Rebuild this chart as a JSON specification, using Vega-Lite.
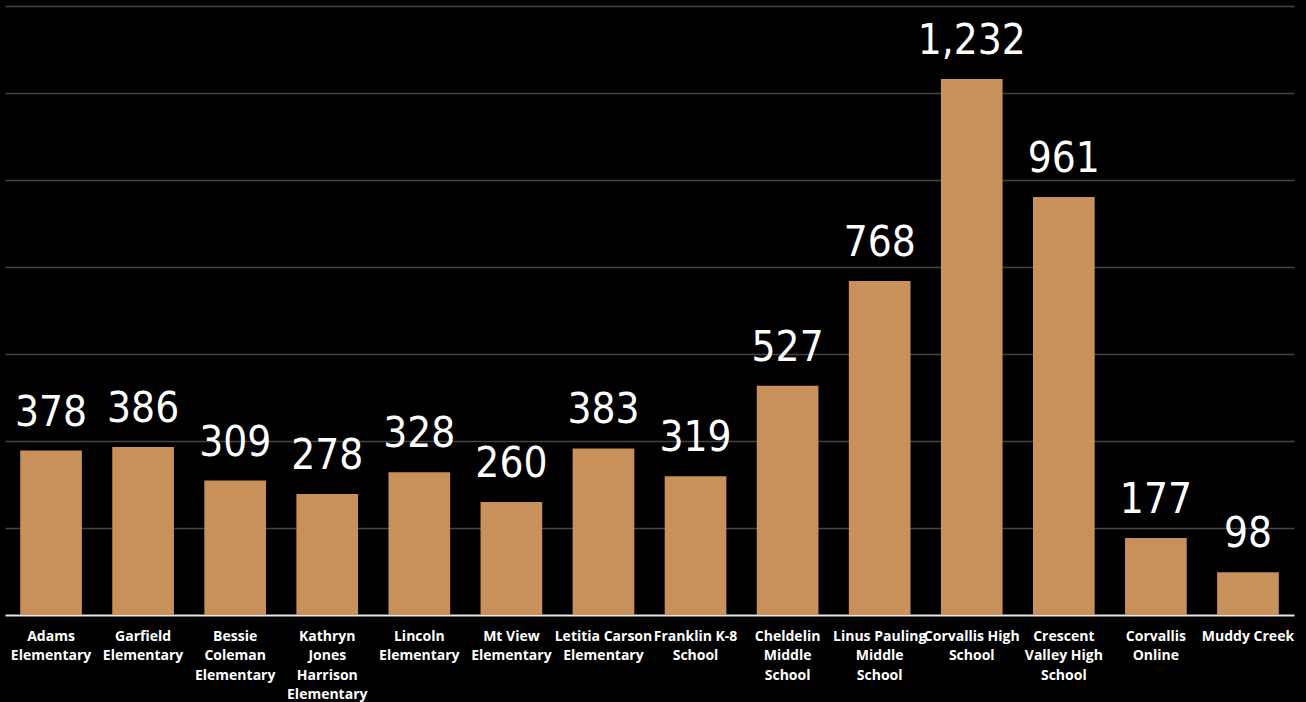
{
  "$schema": "https://vega.github.io/schema/vega-lite/v6.json",
  "width": 1289,
  "height": 609,
  "autosize": {"type": "none"},
  "padding": {"left": 5, "top": 6, "right": 12, "bottom": 87},
  "background": "#000000",
  "config": {"view": {"stroke": null}},
  "data": {
    "values": [
      {"label": "Adams|Elementary", "students": 378},
      {"label": "Garfield|Elementary", "students": 386},
      {"label": "Bessie|Coleman|Elementary", "students": 309},
      {"label": "Kathryn|Jones|Harrison|Elementary", "students": 278},
      {"label": "Lincoln|Elementary", "students": 328},
      {"label": "Mt View|Elementary", "students": 260},
      {"label": "Letitia Carson|Elementary", "students": 383},
      {"label": "Franklin K-8|School", "students": 319},
      {"label": "Cheldelin|Middle|School", "students": 527},
      {"label": "Linus Pauling|Middle|School", "students": 768},
      {"label": "Corvallis High|School", "students": 1232},
      {"label": "Crescent|Valley High|School", "students": 961},
      {"label": "Corvallis|Online", "students": 177},
      {"label": "Muddy Creek", "students": 98}
    ]
  },
  "encoding": {
    "x": {
      "field": "label",
      "type": "nominal",
      "sort": null,
      "scale": {"paddingInner": 0.33, "paddingOuter": 0.165},
      "axis": {
        "title": null,
        "labelExpr": "split(datum.label, '|')",
        "labelAngle": 0,
        "labelColor": "#ffffff",
        "labelFont": "Open Sans",
        "labelFontWeight": "bold",
        "labelFontSize": 14,
        "labelLineHeight": 19.5,
        "labelPadding": 14,
        "labelBaseline": "top",
        "labelOverlap": false,
        "ticks": false,
        "domain": true,
        "domainColor": "#e8e8e8",
        "domainWidth": 2
      }
    },
    "y": {
      "field": "students",
      "type": "quantitative",
      "scale": {"domain": [0, 1400], "nice": false},
      "axis": {
        "title": null,
        "labels": false,
        "ticks": false,
        "domain": false,
        "values": [200, 400, 600, 800, 1000, 1200, 1400],
        "grid": true,
        "gridColor": "#444444",
        "gridWidth": 1.5
      }
    }
  },
  "layer": [
    {"mark": {"type": "bar", "color": "#C8915B"}},
    {
      "mark": {
        "type": "text",
        "color": "#ffffff",
        "font": "DejaVu Sans Condensed",
        "fontSize": 42,
        "baseline": "alphabetic",
        "dy": -25
      },
      "encoding": {"text": {"field": "students", "type": "quantitative", "format": ","}}
    }
  ]
}
